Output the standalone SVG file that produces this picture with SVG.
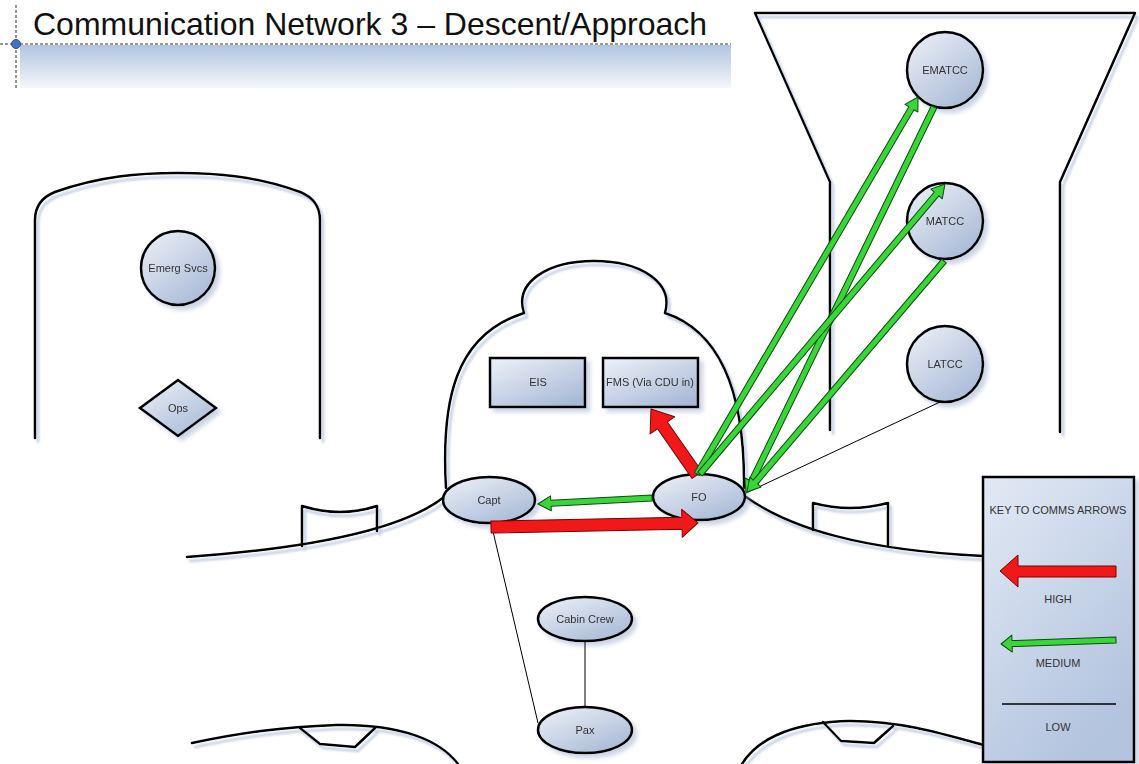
<svg xmlns="http://www.w3.org/2000/svg" width="1139" height="764" viewBox="0 0 1139 764">
  <defs>
    <linearGradient id="nodeFill" x1="0" y1="0" x2="0.8" y2="1">
      <stop offset="0" stop-color="#eef2f8"/>
      <stop offset="1" stop-color="#a8b9d6"/>
    </linearGradient>
    <linearGradient id="keyFill" x1="0" y1="0" x2="0.6" y2="1">
      <stop offset="0" stop-color="#e2e9f4"/>
      <stop offset="1" stop-color="#b3c4df"/>
    </linearGradient>
    <linearGradient id="barFill" x1="0" y1="0" x2="0" y2="1">
      <stop offset="0" stop-color="#b1c4e0"/>
      <stop offset="1" stop-color="#f4f7fb"/>
    </linearGradient>
    <filter id="shadow" x="-15%" y="-15%" width="140%" height="140%">
      <feDropShadow dx="4" dy="4" stdDeviation="2" flood-color="#8fa3c4" flood-opacity="0.45"/>
    </filter>
    <filter id="lineShadow" x="-5%" y="-5%" width="110%" height="110%">
      <feDropShadow dx="3" dy="4" stdDeviation="0.8" flood-color="#b4c2da" flood-opacity="0.8"/>
    </filter>
  </defs>
  <style>
    .outline{fill:none;stroke:#000;stroke-width:2.5;stroke-linejoin:round;stroke-linecap:round}
    .node{fill:url(#nodeFill);stroke:#000;stroke-width:2.5}
    .label{font-family:"Liberation Sans",Arial,sans-serif;font-size:11px;fill:#333;text-anchor:middle}
    .high{fill:#f01818;stroke:#7a0000;stroke-width:1;stroke-linejoin:round}
    .medium{fill:#3ad53a;stroke:#0b4d0b;stroke-width:1;stroke-linejoin:round}
    .low{stroke:#000;stroke-width:1;fill:none}
  </style>

  <rect width="1139" height="764" fill="#fff"/>

  <!-- title bar -->
  <g id="title">
    <rect x="20" y="45" width="711" height="43" fill="url(#barFill)"/>
    <line x1="0" y1="44" x2="731" y2="44" stroke="#333" stroke-width="1" stroke-dasharray="3,2"/>
    <line x1="16" y1="5" x2="16" y2="88" stroke="#333" stroke-width="1" stroke-dasharray="3,2"/>
    <circle cx="16" cy="44" r="4.5" fill="#4472c4" stroke="#2f528f" stroke-width="1"/>
    <text x="33" y="35" font-family="'Liberation Sans',Arial,sans-serif" font-size="32" fill="#111">Communication Network 3 – Descent/Approach</text>
  </g>

  <!-- background outlines: buildings, aircraft dome, ground -->
  <g id="outlines" class="outline" filter="url(#lineShadow)">
    <path d="M35,438 L35,220 Q35,200 55,192 C100,176 140,173 178,173 C216,173 256,176 300,192 Q320,200 320,220 L320,438"/>
    <path d="M830,430 L830,182 L755,13 L1135,13 L1060,182 L1060,432"/>
    <path d="M446,488 C441,400 455,335 524,313 C514,282 548,261 594,261 C640,261 674,282 665,313 C725,333 745,400 744,488"/>
    <path d="M187,557 C300,549 400,532 444,497"/>
    <path d="M302,546 L302,506 Q340,518 377,506 L377,531"/>
    <path d="M746,497 C790,528 860,550 983,556"/>
    <path d="M813,530 L813,503 Q850,513 888,503 L888,545"/>
    <path d="M192,743 C240,733 280,727 337,725 C400,724 440,740 458,764"/>
    <path d="M300,728 L320,744 L355,747 L375,728"/>
    <path d="M742,764 C760,735 800,722 850,721 C900,721 940,733 983,745"/>
    <path d="M823,722 L841,741 L874,743 L893,726"/>
  </g>

  <!-- nodes -->
  <g id="emerg-svcs" filter="url(#shadow)">
    <circle class="node" cx="178" cy="268" r="37"/>
    <text class="label" x="178" y="272">Emerg Svcs</text>
  </g>
  <g id="ops" filter="url(#shadow)">
    <polygon class="node" points="140,408 178,380 216,408 178,436"/>
    <text class="label" x="178" y="412">Ops</text>
  </g>
  <g id="ematcc" filter="url(#shadow)">
    <circle class="node" cx="945" cy="70" r="38"/>
    <text class="label" x="945" y="74">EMATCC</text>
  </g>
  <g id="matcc" filter="url(#shadow)">
    <circle class="node" cx="945" cy="221" r="38"/>
    <text class="label" x="945" y="225">MATCC</text>
  </g>
  <g id="latcc" filter="url(#shadow)">
    <circle class="node" cx="945" cy="364" r="38"/>
    <text class="label" x="945" y="368">LATCC</text>
  </g>
  <g id="eis" filter="url(#shadow)">
    <rect class="node" x="490" y="358" width="95" height="49"/>
    <text class="label" x="538" y="386">EIS</text>
  </g>
  <g id="fms" filter="url(#shadow)">
    <rect class="node" x="603" y="358" width="95" height="49"/>
    <text class="label" x="650" y="386">FMS (Via CDU in)</text>
  </g>
  <g id="capt" filter="url(#shadow)">
    <ellipse class="node" cx="489" cy="500" rx="46" ry="23"/>
    <text class="label" x="489" y="504">Capt</text>
  </g>
  <g id="fo" filter="url(#shadow)">
    <ellipse class="node" cx="699" cy="497" rx="46" ry="23"/>
    <text class="label" x="699" y="501">FO</text>
  </g>
  <g id="cabin-crew" filter="url(#shadow)">
    <ellipse class="node" cx="585" cy="619" rx="47" ry="22"/>
    <text class="label" x="585" y="623">Cabin Crew</text>
  </g>
  <g id="pax" filter="url(#shadow)">
    <ellipse class="node" cx="585" cy="730" rx="47" ry="23"/>
    <text class="label" x="585" y="734">Pax</text>
  </g>

  <!-- communication links -->
  <g id="connectors">
    <line class="low" x1="491" y1="523" x2="538" y2="723"/>
    <line class="low" x1="585" y1="641" x2="585" y2="707" stroke-width="1.5"/>
    <line class="low" x1="940" y1="402" x2="748" y2="492"/>
    <polygon class="high" transform="translate(491,527) rotate(-1.11)" points="0,-6 191,-6 191,-14 207,0 191,14 191,6 0,6"/>
    <polygon class="high" transform="translate(697,475) rotate(-124.87)" points="0,-6 60.5,-6 60.5,-15 80.5,0 60.5,15 60.5,6 0,6"/>
    <polygon class="medium" transform="translate(652,498) rotate(176.99)" points="0,-3 101.2,-3 101.2,-7.5 114.2,0 101.2,7.5 101.2,3 0,3"/>
    <polygon class="medium" transform="translate(697,474) rotate(-59.62)" points="0,-3 424,-3 424,-7.5 437,0 424,7.5 424,3 0,3"/>
    <polygon class="medium" transform="translate(934,107) rotate(115.97)" points="0,-3 416.4,-3 416.4,-7.5 429.4,0 416.4,7.5 416.4,3 0,3"/>
    <polygon class="medium" transform="translate(700,474) rotate(-49.81)" points="0,-3 366.6,-3 366.6,-7.5 379.6,0 366.6,7.5 366.6,3 0,3"/>
    <polygon class="medium" transform="translate(944,261) rotate(130.46)" points="0,-3 290.6,-3 290.6,-7.5 303.6,0 290.6,7.5 290.6,3 0,3"/>
  </g>

  <!-- legend -->
  <g id="key">
    <rect x="983" y="477" width="151" height="285" fill="url(#keyFill)" stroke="#000" stroke-width="2.5" filter="url(#shadow)"/>
    <text class="label" x="1058" y="514">KEY TO COMMS ARROWS</text>
    <polygon class="high" points="1116,566 1018,566 1018,555 1000,571 1018,587 1018,577 1116,577"/>
    <text class="label" x="1058" y="603">HIGH</text>
    <polygon class="medium" transform="translate(1116,640) rotate(178.01)" points="0,-3 104,-3 104,-8.5 115,0 104,8.5 104,3 0,3"/>
    <text class="label" x="1058" y="667">MEDIUM</text>
    <line x1="1002" y1="704" x2="1116" y2="704" stroke="#000" stroke-width="1.5"/>
    <text class="label" x="1058" y="731">LOW</text>
  </g>
</svg>
